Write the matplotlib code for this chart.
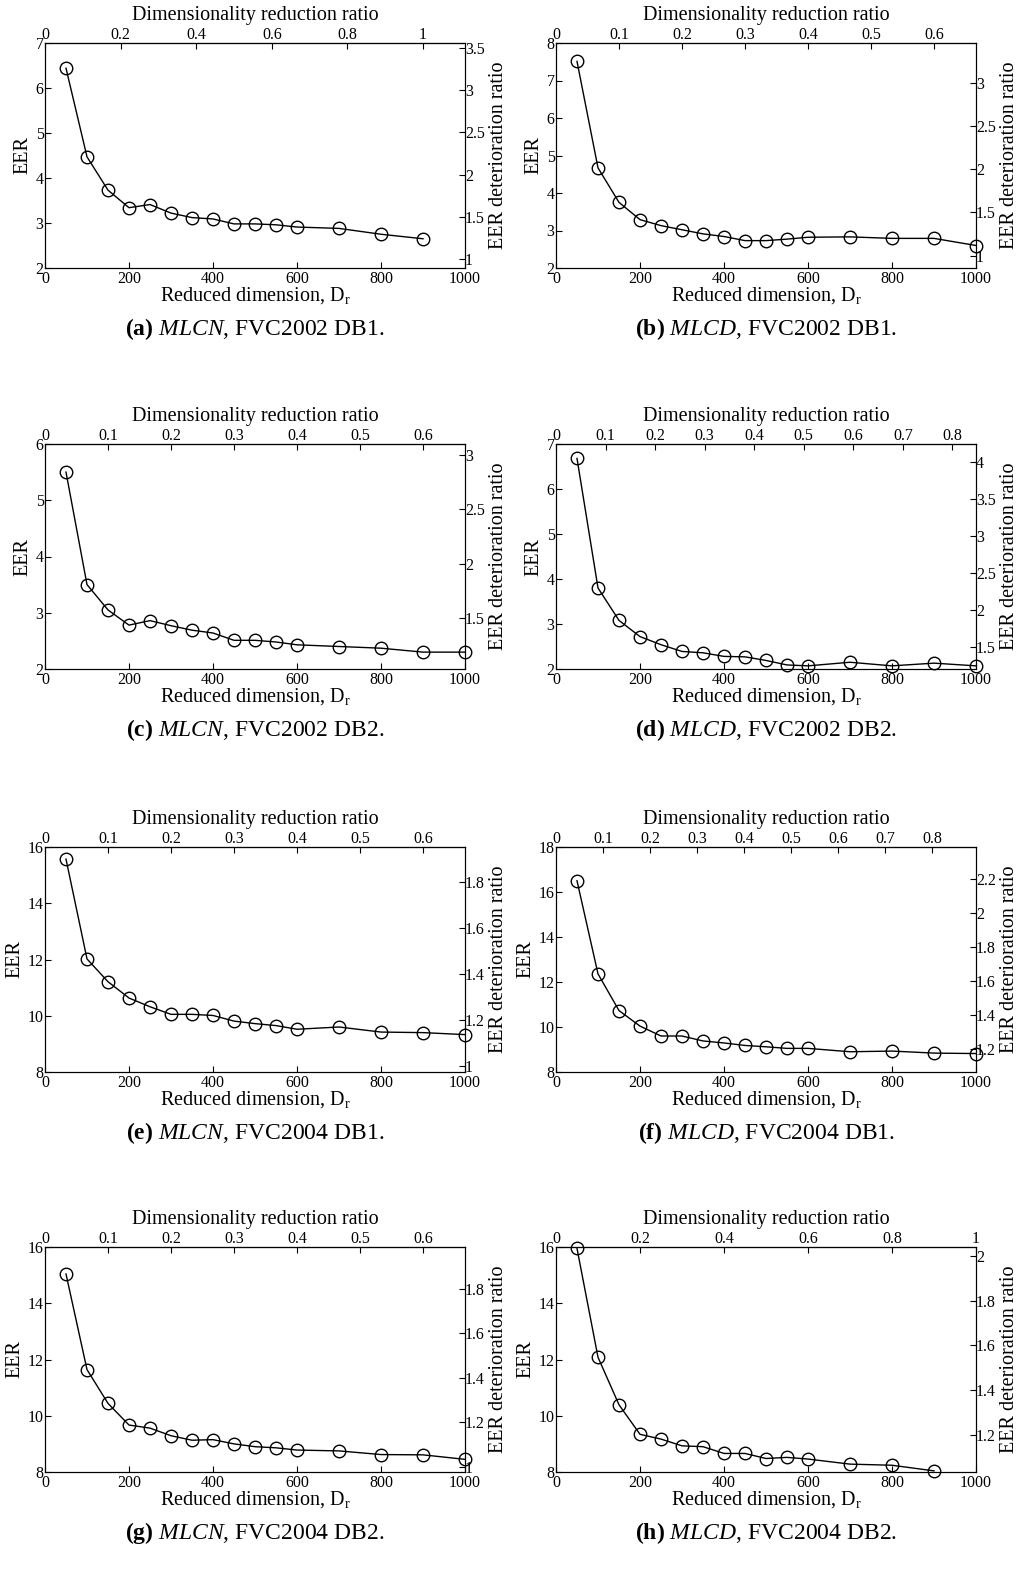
import matplotlib
matplotlib.use('Agg')
import matplotlib.pyplot as plt
from matplotlib.ticker import FuncFormatter

plt.rcParams['font.family'] = 'Liberation Serif'
plt.rcParams['mathtext.fontset'] = 'custom'
plt.rcParams['mathtext.rm'] = 'Liberation Serif'
plt.rcParams['mathtext.it'] = 'Liberation Serif:italic'
plt.rcParams['mathtext.bf'] = 'Liberation Serif:bold'

# reduced dimensions D_r
dims = [50, 100, 150, 200, 250, 300, 350, 400, 450, 500, 550, 600, 700, 800, 900, 1000]

# EER (%) for each method / database
eer_a = [6.44, 4.47, 3.73, 3.34, 3.41, 3.22, 3.12, 3.09, 2.98, 2.98, 2.96, 2.91, 2.88, 2.75, 2.65]
eer_b = [7.51, 4.67, 3.75, 3.29, 3.13, 3.02, 2.91, 2.84, 2.73, 2.73, 2.77, 2.82, 2.83, 2.79, 2.79, 2.60]
eer_c = [5.50, 3.50, 3.05, 2.78, 2.86, 2.77, 2.69, 2.64, 2.51, 2.51, 2.48, 2.43, 2.40, 2.37, 2.30, 2.30]
eer_d = [6.68, 3.80, 3.08, 2.72, 2.54, 2.39, 2.36, 2.28, 2.27, 2.19, 2.09, 2.07, 2.15, 2.07, 2.13, 2.07]
eer_e = [15.57, 12.02, 11.21, 10.63, 10.32, 10.05, 10.05, 10.01, 9.81, 9.72, 9.65, 9.52, 9.60, 9.42, 9.40, 9.33]
eer_f = [16.50, 12.36, 10.73, 10.04, 9.60, 9.60, 9.38, 9.29, 9.18, 9.12, 9.05, 9.05, 8.90, 8.93, 8.84, 8.82]
eer_g = [15.04, 11.64, 10.44, 9.67, 9.56, 9.29, 9.13, 9.15, 9.00, 8.90, 8.86, 8.78, 8.75, 8.62, 8.61, 8.45]
eer_h = [15.95, 12.08, 10.39, 9.34, 9.17, 8.93, 8.90, 8.66, 8.66, 8.48, 8.52, 8.46, 8.28, 8.24, 8.04]

# original template dimension (ratio = D_r / full_dim)
full_dims = [900, 1500, 1500, 1180, 1500, 1120, 1500, 1000]

eer_ticks = [[2, 3, 4, 5, 6, 7], [2, 3, 4, 5, 6, 7, 8], [2, 3, 4, 5, 6], [2, 3, 4, 5, 6, 7],
             [8, 10, 12, 14, 16], [8, 10, 12, 14, 16, 18], [8, 10, 12, 14, 16], [8, 10, 12, 14, 16]]
ratio_ylims = [(0.893, 3.56), (0.857, 3.457), (1.032, 3.098), (1.20, 4.24),
               (0.975, 1.95), (1.063, 2.389), (0.977, 1.989), (1.034, 2.04)]
ratio_yticks = [[1, 1.5, 2, 2.5, 3, 3.5], [1, 1.5, 2, 2.5, 3], [1.5, 2, 2.5, 3],
                [1.5, 2, 2.5, 3, 3.5, 4], [1, 1.2, 1.4, 1.6, 1.8], [1.2, 1.4, 1.6, 1.8, 2, 2.2],
                [1, 1.2, 1.4, 1.6, 1.8], [1.2, 1.4, 1.6, 1.8, 2]]
top_ticks = [[0, 0.2, 0.4, 0.6, 0.8, 1], [0, 0.1, 0.2, 0.3, 0.4, 0.5, 0.6],
             [0, 0.1, 0.2, 0.3, 0.4, 0.5, 0.6], [0, 0.1, 0.2, 0.3, 0.4, 0.5, 0.6, 0.7, 0.8],
             [0, 0.1, 0.2, 0.3, 0.4, 0.5, 0.6], [0, 0.1, 0.2, 0.3, 0.4, 0.5, 0.6, 0.7, 0.8],
             [0, 0.1, 0.2, 0.3, 0.4, 0.5, 0.6], [0, 0.2, 0.4, 0.6, 0.8, 1]]
captions = [('(a)', 'MLCN', 'FVC2002 DB1.'), ('(b)', 'MLCD', 'FVC2002 DB1.'),
            ('(c)', 'MLCN', 'FVC2002 DB2.'), ('(d)', 'MLCD', 'FVC2002 DB2.'),
            ('(e)', 'MLCN', 'FVC2004 DB1.'), ('(f)', 'MLCD', 'FVC2004 DB1.'),
            ('(g)', 'MLCN', 'FVC2004 DB2.'), ('(h)', 'MLCD', 'FVC2004 DB2.')]

all_eer = [eer_a, eer_b, eer_c, eer_d, eer_e, eer_f, eer_g, eer_h]

W, H = 1016, 1570
fig = plt.figure(figsize=(W / 100, H / 100), dpi=100)

col_left = [45, 556]
col_width = 420
row_top = [43, 444, 847, 1247]
ax_height = 225

fmt = FuncFormatter(lambda v, p: '%g' % round(v, 3))
tick_kw = dict(direction='in', length=4, width=0.8, labelsize=11.5)
label_size = 14.5

for i, eer in enumerate(all_eer):
    row, col = divmod(i, 2)
    left = col_left[col]
    top = row_top[row]
    ax = fig.add_axes([left / W, 1 - (top + ax_height) / H, col_width / W, ax_height / H])

    xs = dims[:len(eer)]
    ax.plot(xs, eer, '-', color='black', lw=1.0, marker='o', markersize=9,
            markerfacecolor='none', markeredgecolor='black', markeredgewidth=1.0,
            clip_on=False, zorder=5)

    lo, hi = eer_ticks[i][0], eer_ticks[i][-1]
    ax.set_xlim(0, 1000)
    ax.set_ylim(lo, hi)
    ax.set_xticks([0, 200, 400, 600, 800, 1000])
    ax.set_yticks(eer_ticks[i])
    ax.xaxis.set_major_formatter(fmt)
    ax.yaxis.set_major_formatter(fmt)
    ax.tick_params(axis='x', pad=2, **tick_kw)
    ax.tick_params(axis='y', pad=1, **tick_kw)
    ax.set_xlabel(r'Reduced dimension, D$_\mathregular{r}$', fontsize=label_size, labelpad=-1)
    ax.set_ylabel('EER', fontsize=label_size, labelpad=2)

    # right axis: EER deterioration ratio
    axr = ax.twinx()
    axr.set_ylim(*ratio_ylims[i])
    axr.set_yticks(ratio_yticks[i])
    axr.yaxis.set_major_formatter(fmt)
    axr.tick_params(axis='y', pad=0, **tick_kw)
    axr.set_ylabel('EER deterioration ratio', fontsize=label_size, labelpad=3)

    # top axis: dimensionality reduction ratio
    d0 = full_dims[i]
    axt = ax.secondary_xaxis('top', functions=(lambda x, d=d0: x / d, lambda r, d=d0: r * d))
    axt.set_xticks(top_ticks[i])
    axt.xaxis.set_major_formatter(fmt)
    axt.tick_params(axis='x', pad=0, **tick_kw)
    axt.set_xlabel('Dimensionality reduction ratio', fontsize=label_size, labelpad=5)

    for a in (ax, axr):
        for s in a.spines.values():
            s.set_linewidth(0.8)

    tag, method, db = captions[i]
    fig.text((left + col_width / 2) / W, 1 - (top + 286) / H,
             r'$\mathbf{%s}$ $\mathit{%s}$, %s' % (tag, method, db),
             ha='center', va='center', fontsize=17)

fig.savefig('out.png', dpi=100)
